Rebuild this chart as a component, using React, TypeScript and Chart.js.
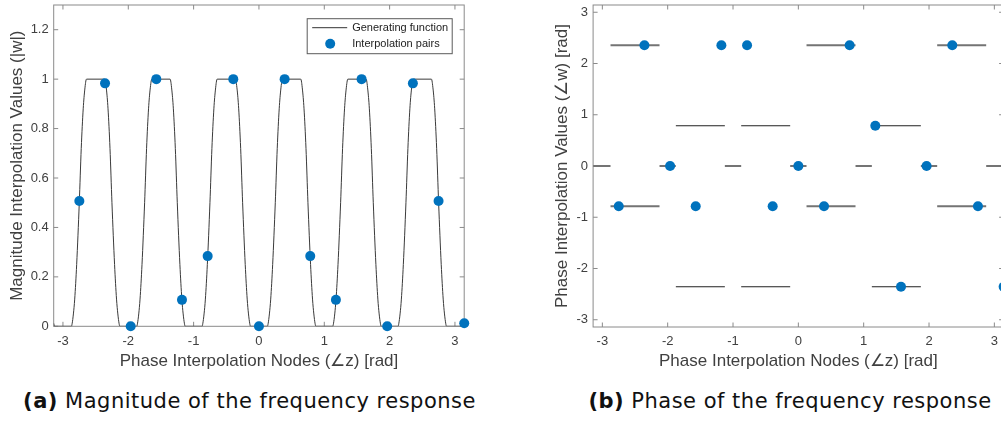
import React, { useEffect, useRef } from "react";
import { Chart, registerables } from "chart.js";

Chart.register(...registerables);

// ---------- data ----------
const nodeX = [-2.749, -2.356, -1.963, -1.571, -1.178, -0.785, -0.393, 0, 0.393, 0.785, 1.178, 1.571, 1.963, 2.356, 2.749, 3.142];
const magnitudeValues = [0.507, 0.983, 0, 1, 0.107, 0.284, 1, 0, 1, 0.284, 0.107, 1, 0, 0.983, 0.507, 0.012];
const phaseValues = [-0.785, 2.356, 0, -0.785, 2.356, 2.356, -0.785, 0, -0.785, 2.356, 0.785, -2.356, 0, 2.356, -0.785, -2.356];

const genMagX = [
  -3.1416, -3.13,
  -2.87, -2.86, -2.84, -2.82, -2.79, -2.75, -2.72, -2.69, -2.665, -2.64, -2.36, -2.335, -2.31, -2.28, -2.25, -2.21, -2.18, -2.16, -2.14, -2.13,
  -1.87, -1.86, -1.84, -1.82, -1.79, -1.75, -1.72, -1.69, -1.665, -1.64, -1.36, -1.335, -1.31, -1.28, -1.25, -1.21, -1.18, -1.16, -1.14, -1.13,
  -0.87, -0.86, -0.84, -0.82, -0.79, -0.75, -0.72, -0.69, -0.665, -0.64, -0.36, -0.335, -0.31, -0.28, -0.25, -0.21, -0.18, -0.16, -0.14, -0.13,
  0.13, 0.14, 0.16, 0.18, 0.21, 0.25, 0.28, 0.31, 0.335, 0.36, 0.64, 0.665, 0.69, 0.72, 0.75, 0.79, 0.82, 0.84, 0.86, 0.87,
  1.13, 1.14, 1.16, 1.18, 1.21, 1.25, 1.28, 1.31, 1.335, 1.36, 1.64, 1.665, 1.69, 1.72, 1.75, 1.79, 1.82, 1.84, 1.86, 1.87,
  2.13, 2.14, 2.16, 2.18, 2.21, 2.25, 2.28, 2.31, 2.335, 2.36, 2.64, 2.665, 2.69, 2.72, 2.75, 2.79, 2.82, 2.84, 2.86, 2.87,
  3.13, 3.1416,
];
const genMagY = [
  0.012, 0,
  0, 0.01, 0.05, 0.11, 0.25, 0.5, 0.72, 0.88, 0.96, 1, 1, 0.96, 0.88, 0.72, 0.5, 0.25, 0.11, 0.05, 0.01, 0,
  0, 0.01, 0.05, 0.11, 0.25, 0.5, 0.72, 0.88, 0.96, 1, 1, 0.96, 0.88, 0.72, 0.5, 0.25, 0.11, 0.05, 0.01, 0,
  0, 0.01, 0.05, 0.11, 0.25, 0.5, 0.72, 0.88, 0.96, 1, 1, 0.96, 0.88, 0.72, 0.5, 0.25, 0.11, 0.05, 0.01, 0,
  0, 0.01, 0.05, 0.11, 0.25, 0.5, 0.72, 0.88, 0.96, 1, 1, 0.96, 0.88, 0.72, 0.5, 0.25, 0.11, 0.05, 0.01, 0,
  0, 0.01, 0.05, 0.11, 0.25, 0.5, 0.72, 0.88, 0.96, 1, 1, 0.96, 0.88, 0.72, 0.5, 0.25, 0.11, 0.05, 0.01, 0,
  0, 0.01, 0.05, 0.11, 0.25, 0.5, 0.72, 0.88, 0.96, 1, 1, 0.96, 0.88, 0.72, 0.5, 0.25, 0.11, 0.05, 0.01, 0,
  0, 0.012,
];

// phase generating function: horizontal segments
const phaseSegStart = [-2.875, 0.125, 2.125, -2.875, 0.125, 2.125, -3.1416, -2.125, -1.125, -0.125, 0.875, 1.875, 2.875, -1.875, -0.875, 1.125, -1.875, -0.875, 1.125];
const phaseSegEnd = [-2.125, 0.875, 2.875, -2.125, 0.875, 2.875, -2.875, -1.875, -0.875, 0.125, 1.125, 2.125, 3.1416, -1.125, -0.125, 1.875, -1.125, -0.125, 1.875];
const phaseSegLevel = [2.356, 2.356, 2.356, -0.785, -0.785, -0.785, 0, 0, 0, 0, 0, 0, 0, 0.785, 0.785, 0.785, -2.356, -2.356, -2.356];
const phaseSegTone = ["gray", "gray", "gray", "gray", "gray", "gray", "gray", "gray", "gray", "gray", "gray", "gray", "gray", "dark", "dark", "dark", "dark", "dark", "dark"];

const xTicks = [-3, -2, -1, 0, 1, 2, 3];
const magTicks = [0, 0.2, 0.4, 0.6, 0.8, 1, 1.2];
const phaseTicks = [-3, -2, -1, 0, 1, 2, 3];

const legendLabels = ["Generating function", "Interpolation pairs"];
const xTitle = "Phase Interpolation Nodes (\u2220z) [rad]";
const magYTitle = "Magnitude Interpolation Values (|w|)";
const phaseYTitle = "Phase Interpolation Values (\u2220w) [rad]";

// ---------- styles ----------
const PI = 3.14159265;
const BLUE = "#0072BD";
const AXIS = "#8a8a8a";
const TEXT = "#404040";
const FONT = '"Liberation Sans", Arial, Helvetica, sans-serif';
const TICK_LEN = 4.5;

const framePlugin = {
  id: "frame",
  beforeDatasetsDraw(chart: any) {
    const { ctx, chartArea: a, scales } = chart;
    const xs = scales.x;
    const ys = scales.y;
    ctx.save();
    ctx.strokeStyle = AXIS;
    ctx.lineWidth = 1;
    ctx.strokeRect(a.left, a.top, a.right - a.left, a.bottom - a.top);
    ctx.beginPath();
    for (const t of xs.ticks) {
      const px = xs.getPixelForValue(t.value);
      ctx.moveTo(px, a.bottom);
      ctx.lineTo(px, a.bottom - TICK_LEN);
      ctx.moveTo(px, a.top);
      ctx.lineTo(px, a.top + TICK_LEN);
    }
    for (const t of ys.ticks) {
      const py = ys.getPixelForValue(t.value);
      ctx.moveTo(a.left, py);
      ctx.lineTo(a.left + TICK_LEN, py);
      ctx.moveTo(a.right, py);
      ctx.lineTo(a.right - TICK_LEN, py);
    }
    ctx.stroke();
    ctx.restore();
  },
};

const legendPlugin = {
  id: "magLegend",
  afterDraw(chart: any) {
    const { ctx, chartArea: a } = chart;
    ctx.save();
    ctx.font = `11px ${FONT}`;
    const textW = Math.max(...legendLabels.map((l) => ctx.measureText(l).width));
    const right = a.right - 12;
    const top = a.top + 13.7;
    const textX = right - 4 - textW;
    const left = textX - 45;
    const h = 35;
    ctx.fillStyle = "#fff";
    ctx.fillRect(left, top, right - left, h);
    ctx.strokeStyle = "#5a5a5a";
    ctx.lineWidth = 1;
    ctx.strokeRect(left, top, right - left, h);
    ctx.strokeStyle = "#333";
    ctx.beginPath();
    ctx.moveTo(left + 5, top + 9);
    ctx.lineTo(left + 40, top + 9);
    ctx.stroke();
    ctx.fillStyle = BLUE;
    ctx.beginPath();
    ctx.arc(left + 23, top + 25, 5, 0, Math.PI * 2);
    ctx.fill();
    ctx.fillStyle = "#222";
    ctx.textBaseline = "middle";
    ctx.textAlign = "left";
    ctx.fillText(legendLabels[0], textX, top + 9);
    ctx.fillText(legendLabels[1], textX, top + 25);
    ctx.restore();
  },
};

function fixY(width: number) {
  return (scale: any) => {
    scale.width = width;
    scale.paddingTop = 0;
    scale.paddingBottom = 0;
    scale.paddingLeft = 0;
    scale.paddingRight = 0;
  };
}
function fixX(height: number) {
  return (scale: any) => {
    scale.height = height;
    scale.paddingTop = 0;
    scale.paddingBottom = 0;
    scale.paddingLeft = 0;
    scale.paddingRight = 0;
  };
}
function setTicks(values: number[]) {
  return (scale: any) => {
    scale.ticks = values.map((v) => ({ value: v }));
  };
}

function axisCommon() {
  return {
    grid: { display: false, drawTicks: false },
    border: { display: false },
  };
}

function makeConfig(opts: {
  canvasH: number;
  top: number;
  bottom: number;
  yWidth: number;
  padRight: number;
  yMin: number;
  yMax: number;
  yTicks: number[];
  yTitle: string;
  yTitlePad: number;
  xLabelPad: number;
  datasets: any[];
  plugins: any[];
}) {
  return {
    type: "scatter" as const,
    data: { datasets: opts.datasets },
    plugins: opts.plugins,
    options: {
      animation: false,
      responsive: false,
      devicePixelRatio: 1,
      layout: { padding: { left: 0, top: opts.top, right: opts.padRight, bottom: 0 } },
      plugins: { legend: { display: false }, tooltip: { enabled: false } },
      scales: {
        x: {
          type: "linear",
          min: -PI,
          max: PI,
          ...axisCommon(),
          afterBuildTicks: setTicks(xTicks),
          afterFit: fixX(opts.canvasH - opts.bottom),
          ticks: {
            autoSkip: false,
            maxRotation: 0,
            padding: opts.xLabelPad,
            color: TEXT,
            font: { family: FONT, size: 13 },
            callback: (v: any) => String(v),
          },
          title: {
            display: true,
            text: xTitle,
            color: TEXT,
            font: { family: FONT, size: 17 },
            padding: { top: 0, bottom: 8 },
          },
        },
        y: {
          type: "linear",
          min: opts.yMin,
          max: opts.yMax,
          ...axisCommon(),
          afterBuildTicks: setTicks(opts.yTicks),
          afterFit: fixY(opts.yWidth),
          ticks: {
            autoSkip: false,
            padding: 5,
            color: TEXT,
            font: { family: FONT, size: 13 },
            callback: (v: any) => String(v),
          },
          title: {
            display: true,
            text: opts.yTitle,
            color: TEXT,
            font: { family: FONT, size: 17 },
            padding: { top: opts.yTitlePad, bottom: 0 },
          },
        },
      },
    },
  };
}

function segmentData(tone: string) {
  const pts: any[] = [];
  phaseSegStart.forEach((s, i) => {
    if (phaseSegTone[i] !== tone) return;
    pts.push({ x: s, y: phaseSegLevel[i] });
    pts.push({ x: phaseSegEnd[i], y: phaseSegLevel[i] });
    pts.push({ x: phaseSegEnd[i], y: null });
  });
  return pts;
}

export default function App() {
  const magRef = useRef<HTMLCanvasElement>(null);
  const phaseRef = useRef<HTMLCanvasElement>(null);

  useEffect(() => {
    const dots = (vals: number[]) => ({
      type: "scatter",
      label: legendLabels[1],
      data: nodeX.map((x, i) => ({ x, y: vals[i] })),
      backgroundColor: BLUE,
      borderColor: BLUE,
      pointRadius: 5,
      pointBorderWidth: 0,
      clip: false,
      order: 0,
    });

    const magChart = new Chart(
      magRef.current as HTMLCanvasElement,
      makeConfig({
        canvasH: 380,
        top: 3.3,
        bottom: 326.3,
        yWidth: 53.7,
        padRight: 500 - 464.2,
        yMin: 0,
        yMax: 1.3,
        yTicks: magTicks,
        yTitle: magYTitle,
        yTitlePad: 6.8,
        xLabelPad: 7.6,
        datasets: [
          dots(magnitudeValues),
          {
            type: "line",
            label: legendLabels[0],
            data: genMagX.map((x, i) => ({ x, y: genMagY[i] })),
            borderColor: "#3a3a3a",
            borderWidth: 1,
            pointRadius: 0,
            cubicInterpolationMode: "monotone",
            order: 1,
          },
        ],
        plugins: [framePlugin, legendPlugin],
      }) as any
    );

    const phaseChart = new Chart(
      phaseRef.current as HTMLCanvasElement,
      makeConfig({
        canvasH: 380,
        top: 4.7,
        bottom: 327,
        yWidth: 93.1,
        padRight: 520 - 503.6,
        yMin: -PI,
        yMax: PI,
        yTicks: phaseTicks,
        yTitle: phaseYTitle,
        yTitlePad: 52.6,
        xLabelPad: 6.9,
        datasets: [
          dots(phaseValues),
          {
            type: "line",
            label: "gray",
            data: segmentData("gray"),
            borderColor: "#747474",
            borderWidth: 1.8,
            pointRadius: 0,
            spanGaps: false,
            order: 1,
          },
          {
            type: "line",
            label: "dark",
            data: segmentData("dark"),
            borderColor: "#222222",
            borderWidth: 1.1,
            pointRadius: 0,
            spanGaps: false,
            order: 2,
          },
        ],
        plugins: [framePlugin],
      }) as any
    );

    return () => {
      magChart.destroy();
      phaseChart.destroy();
    };
  }, []);

  const captionStyle: React.CSSProperties = {
    position: "absolute",
    top: 388.5,
    transform: "translateX(-50%)",
    whiteSpace: "nowrap",
    fontFamily: '"DejaVu Sans", sans-serif',
    fontSize: 21,
    letterSpacing: 0.5,
    lineHeight: "24px",
    color: "#111",
  };

  return (
    <div
      style={{
        position: "fixed",
        left: 0,
        top: 0,
        width: 1001,
        height: 421,
        overflow: "hidden",
        background: "#fff",
      }}
    >
      <canvas
        ref={magRef}
        width={500}
        height={380}
        style={{ position: "absolute", left: 0, top: 0, width: 500, height: 380 }}
      />
      <canvas
        ref={phaseRef}
        width={520}
        height={380}
        style={{ position: "absolute", left: 500, top: 0, width: 520, height: 380 }}
      />
      <div style={{ ...captionStyle, left: 249.5 }}>
        <b>(a)</b> Magnitude of the frequency response
      </div>
      <div style={{ ...captionStyle, left: 790 }}>
        <b>(b)</b> Phase of the frequency response
      </div>
    </div>
  );
}
